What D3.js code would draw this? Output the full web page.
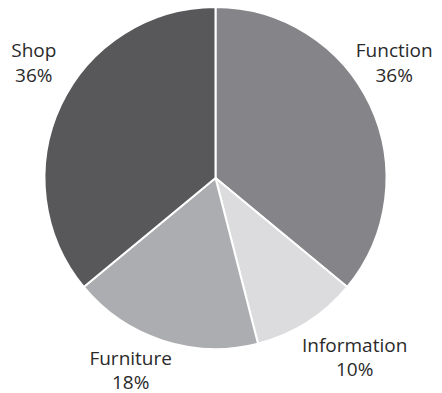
<!DOCTYPE html>
<html>
<head>
<meta charset="utf-8">
<script src="https://cdn.jsdelivr.net/npm/d3@7"></script>
<style>
  html, body { margin: 0; padding: 0; background: #fff; }
  svg { display: block; }
</style>
</head>
<body>
<svg id="chart" width="442" height="393"></svg>
<script>
// Share of each category, clockwise from 12 o'clock
const categories = ["Function", "Information", "Furniture", "Shop"];
const shares = [36, 10, 18, 36];
const sliceColors = ["#858589", "#dcdcde", "#acadb0", "#58585b"];

// Label placement: small nudges away from the outer label ring, per slice
const labelNudge = [[-14, -18], [25, 6], [-19, -4], [11, -18]];

const width = 442, height = 393;
const cx = 215.5, cy = 178, radius = 171;
const labelRadius = 213;

const svg = d3.select("#chart");
const g = svg.append("g").attr("transform", `translate(${cx},${cy})`);

const pie = d3.pie().sort(null).value(d => d.value);
const arcs = pie(categories.map((c, i) => ({ name: c, value: shares[i], color: sliceColors[i], nudge: labelNudge[i] })));

const arc = d3.arc().innerRadius(0).outerRadius(radius);

g.selectAll("path.slice")
  .data(arcs)
  .join("path")
  .attr("class", "slice")
  .attr("d", arc)
  .attr("fill", d => d.data.color)
  .attr("stroke", "#fff")
  .attr("stroke-width", 2)
  .attr("stroke-linejoin", "round");

const labelArc = d3.arc().innerRadius(labelRadius).outerRadius(labelRadius);

const labels = g.selectAll("text.label")
  .data(arcs)
  .join("text")
  .attr("class", "label")
  .attr("transform", d => {
    const [x, y] = labelArc.centroid(d);
    return `translate(${x + d.data.nudge[0]},${y + d.data.nudge[1]})`;
  })
  .attr("text-anchor", "middle")
  .attr("font-family", "'Open Sans', sans-serif")
  .attr("font-size", 19)
  .attr("fill", "#2a2a2a");

labels.append("tspan")
  .attr("x", 0)
  .attr("dy", -12)
  .text(d => d.data.name);
labels.append("tspan")
  .attr("x", 0)
  .attr("dy", 24.5)
  .text(d => d.data.value + "%");
</script>
</body>
</html>
